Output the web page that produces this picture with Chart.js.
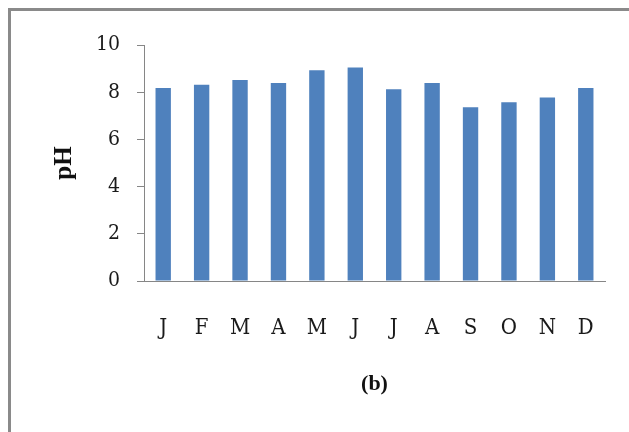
<!DOCTYPE html>
<html>
<head>
<meta charset="utf-8">
<script src="https://cdn.jsdelivr.net/npm/chart.js@4/dist/chart.umd.min.js"></script>
<style>
  html, body { margin: 0; padding: 0; background: #fff; overflow: hidden; }
  #wrap { position: relative; width: 629px; height: 432px; }
  #frame { position: absolute; left: 8px; top: 8px; width: 640px; height: 440px; border: 3px solid #8a8a8a; box-sizing: border-box; }
  canvas { position: absolute; left: 0; top: 0; }
</style>
</head>
<body>
<div id="wrap">
  <div id="frame"></div>
  <canvas id="chart" width="629" height="432"></canvas>
</div>
<script>
  // monthly pH
  const months = ['J', 'F', 'M', 'A', 'M', 'J', 'J', 'A', 'S', 'O', 'N', 'D'];
  const phValues = [8.18, 8.32, 8.52, 8.39, 8.93, 9.05, 8.12, 8.39, 7.36, 7.57, 7.78, 8.18];
  const yTicks = [0, 2, 4, 6, 8, 10];

  const AXIS_GRAY = '#868686';
  const TICK_FONT = "'DejaVu Serif Condensed', 'Liberation Serif', serif";
  const TITLE_FONT = "'Liberation Serif', 'Times New Roman', serif";

  new Chart(document.getElementById('chart'), {
    type: 'bar',
    data: {
      labels: months,
      datasets: [{
        label: 'pH',
        data: phValues,
        backgroundColor: '#4f81bd',
        barPercentage: 0.8,
        categoryPercentage: 0.5,
      }],
    },
    options: {
      responsive: false,
      animation: false,
      layout: { padding: { top: 45, right: 24, bottom: 0, left: 0 } },
      plugins: { legend: { display: false }, tooltip: { enabled: false } },
      scales: {
        x: {
          grid: { display: true, drawOnChartArea: false, drawTicks: false },
          border: { color: AXIS_GRAY, width: 1 },
          ticks: { color: '#1a1a1a', padding: 34, font: { family: TICK_FONT, size: 22 } },
          title: {
            display: true, text: '(b)', color: '#111',
            font: { family: TITLE_FONT, size: 22, weight: 'bold' },
            padding: { top: 0, bottom: 34 },
          },
          afterFit: s => { s.height = 151; },
        },
        y: {
          min: 0, max: 10,
          afterBuildTicks: s => { s.ticks = yTicks.map(v => ({ value: v })); },
          grid: { drawOnChartArea: false, color: AXIS_GRAY, tickLength: 7 },
          border: { color: AXIS_GRAY, width: 1 },
          ticks: { color: '#1a1a1a', padding: 17, font: { family: TICK_FONT, size: 21 } },
          title: {
            display: true, text: 'pH', color: '#111',
            font: { family: TITLE_FONT, size: 25, weight: 'bold' },
            padding: { top: 50, bottom: 0 },
          },
          afterFit: s => { s.width = 144; },
        },
      },
    },
  });
</script>
</body>
</html>
